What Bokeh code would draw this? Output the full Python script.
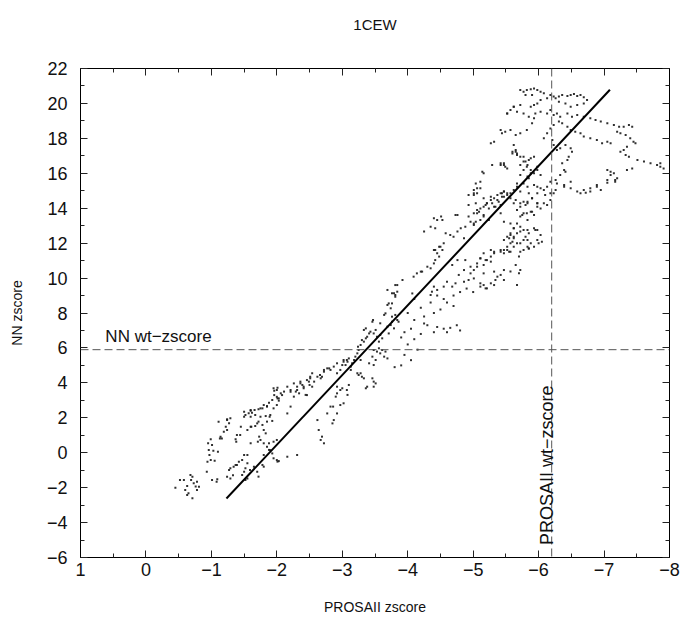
import math
from bokeh.plotting import figure
from bokeh.models import (Range1d, LinearAxis, FixedTicker, Span, Label,
                          CustomJSTickFormatter, ColumnDataSource, CustomLabelingPolicy)
from bokeh.embed import file_html
from bokeh.resources import INLINE

# ---------------- data ----------------
TITLE = "1CEW"
X_LABEL = "PROSAII zscore"
Y_LABEL = "NN zscore"
X_TICKS = [1, 0, -1, -2, -3, -4, -5, -6, -7, -8]
Y_TICKS = [-6, -4, -2, 0, 2, 4, 6, 8, 10, 12, 14, 16, 18, 20, 22]

NN_WT_ZSCORE = 5.9        # horizontal dashed reference
PROSA_WT_ZSCORE = -6.2    # vertical dashed reference

FIT_X = [-1.23, -7.09]
FIT_Y = [-2.62, 20.78]

# snapshot points: PROSAII zscore (x) and NN zscore (y)
PTS = [
    # lower-left cluster
    (-0.45, -2.0), (-0.52, -1.56), (-0.58, -1.56), (-0.60, -2.13), (-0.63, -2.42), (-0.68, -1.28),
    (-0.71, -1.37), (-0.69, -1.56), (-0.73, -1.75), (-0.76, -1.94), (-0.78, -1.66), (-0.81, -1.95),
    (-0.71, -2.61), (-0.65, -2.32), (-0.63, -1.9), (-0.78, -2.13),
    # column near -1
    (-1.01, -1.56), (-1.09, -1.52), (-1.08, -1.66), (-0.93, -1.09), (-0.94, -0.52), (-0.99, -0.42),
    (-1.05, -0.46), (-0.97, -0.13), (-0.96, 0.15), (-1.03, 0.11), (-1.10, 0.06), (-1.01, 0.44),
    (-0.95, 0.54), (-0.99, 0.77), (-1.13, 0.82), (-1.16, 0.82), (-1.19, 1.2), (-1.24, 1.30),
    (-1.22, 1.49), (-1.11, 1.78), (-1.27, 1.68), (-1.24, 1.91), (-1.29, 1.97), (-1.14, 0.92),
    (-1.24, 1.87),
    # upper band
    (-1.50, 2.06), (-1.52, 2.16), (-1.57, 2.26), (-1.60, 2.41), (-1.62, 2.29), (-1.66, 2.45),
    (-1.67, 2.16), (-1.72, 2.49), (-1.75, 2.06), (-1.78, 2.54), (-1.80, 2.73), (-1.83, 2.1),
    (-1.85, 2.67), (-1.88, 2.86), (-1.90, 2.16), (-1.93, 3.02), (-1.95, 2.54), (-1.96, 3.30),
    (-2.00, 3.2), (-2.00, 2.73), (-2.03, 2.98), (-1.95, 3.69), (-2.00, 3.59), (-1.96, 3.55),
    (-2.01, 3.72), (-2.08, 3.30), (-2.16, 3.78), (-2.21, 3.49), (-2.26, 3.97), (-2.31, 3.59),
    (-2.36, 4.07), (-2.41, 3.78), (-2.46, 4.16), (-2.51, 4.35), (-2.57, 4.07), (-2.62, 4.35),
    (-2.67, 4.26), (-2.72, 4.64), (-2.77, 4.83), (-2.82, 4.74), (-2.87, 4.93), (-2.92, 5.12),
    (-3.02, 5.21), (-3.07, 5.31), (-2.46, 3.30), (-2.21, 2.64), (-2.16, 2.25), (-2.01, 3.11),
    (-1.85, 2.64), (-1.75, 2.54), (-1.60, 2.45), (-1.50, 2.35), (-1.60, 2.06), (-1.70, 1.68),
    (-1.60, 1.49), (-1.45, 1.49), (-1.39, 1.01),
    # lower band
    (-1.37, 0.77), (-1.38, 0.63), (-1.44, 1.01), (-1.55, 1.30), (-1.61, 1.49), (-1.67, 1.53),
    (-1.72, 1.78), (-1.78, 1.59), (-1.80, 1.30), (-1.85, 1.78), (-1.89, 2.06), (-1.93, 1.82),
    (-1.71, 0.63), (-1.75, 0.73), (-1.80, 0.54), (-1.88, 0.54), (-1.95, 0.63), (-2.00, 0.73),
    (-1.85, 0.34), (-1.90, 0.15), (-1.93, -0.04), (-1.95, -0.32), (-2.00, -0.42), (-2.03, -0.48),
    (-1.80, -0.13), (-1.78, -0.70), (-1.70, -1.09), (-1.50, -0.13), (-1.47, -0.42), (-1.42, -0.52),
    (-1.39, -0.70), (-1.55, -0.61), (-1.52, -0.89), (-1.50, -1.09), (-1.47, -1.28), (-1.55, -1.47),
    (-1.52, -1.56), (-1.59, -0.99), (-1.29, -0.89), (-1.27, -0.99), (-1.24, -1.37), (-1.29, -1.47),
    (-1.33, -1.29), (-1.37, -0.70), (-1.72, -1.37), (-1.80, -0.80), (-2.16, -0.23), (-2.31, -0.13),
    (-2.01, -0.51), (-1.88, 0.16), (-1.83, 1.11), (-1.73, 0.92), (-1.60, 0.54), (-1.55, -0.13),
    (-1.65, -0.80), (-1.34, -0.80), (-2.62, 1.87), (-2.64, 1.30), (-2.69, 0.92), (-2.72, 0.54),
    (-2.67, 0.73), (-2.85, 1.68), (-2.87, 1.87), (-2.92, 2.25), (-2.82, 2.64), (-2.97, 2.73),
    (-3.02, 2.83), (-3.07, 3.59), (-3.00, 3.69), (-2.92, 3.78), (-2.86, 2.64), (-2.77, 2.25),
    # middle (-2 .. -4)
    (-2.06, 3.40), (-2.03, 3.11), (-2.11, 3.50), (-2.21, 3.59), (-2.26, 3.21), (-2.29, 3.50),
    (-2.31, 3.78), (-2.34, 3.40), (-2.36, 3.97), (-2.39, 3.88), (-2.41, 3.69), (-2.44, 3.31),
    (-2.49, 4.07), (-2.51, 4.26), (-2.50, 3.88), (-2.54, 4.55), (-2.54, 3.78), (-2.66, 4.45),
    (-2.69, 4.35), (-2.80, 4.83), (-2.72, 4.74), (-2.92, 4.55), (-2.97, 4.74), (-3.00, 5.02),
    (-3.05, 5.02), (-3.08, 5.21), (-3.02, 5.31), (-3.10, 5.40), (-3.13, 4.93), (-3.13, 4.74),
    (-3.15, 5.12), (-3.18, 5.31), (-3.20, 5.50), (-3.23, 5.69), (-3.24, 6.07), (-3.25, 5.88),
    (-3.28, 6.17), (-3.30, 6.45), (-3.33, 6.36), (-3.36, 6.55), (-3.38, 6.64), (-3.41, 6.83),
    (-3.33, 7.03), (-3.36, 7.12), (-3.43, 6.93), (-3.46, 7.50), (-3.47, 7.60), (-3.48, 6.83),
    (-3.51, 7.03), (-3.53, 6.64), (-3.56, 6.36), (-3.58, 6.74), (-3.61, 6.55), (-3.58, 7.41),
    (-3.64, 7.89), (-3.66, 7.98), (-3.69, 8.46), (-3.71, 8.55), (-3.74, 8.27), (-3.76, 8.55),
    (-3.79, 9.13), (-3.81, 8.93), (-3.84, 9.22), (-3.69, 9.32), (-3.81, 9.60), (-3.69, 7.22),
    (-3.71, 6.83), (-3.74, 7.31), (-3.76, 7.50), (-3.79, 7.12), (-3.84, 7.60), (-3.81, 7.89),
    (-3.76, 7.79), (-3.86, 7.50), (-3.48, 5.88), (-3.53, 5.79), (-3.56, 5.98), (-3.58, 5.69),
    (-3.61, 5.88), (-3.64, 5.50), (-3.66, 5.79), (-3.69, 5.40), (-3.46, 5.50), (-3.51, 5.31),
    (-3.48, 5.02), (-3.41, 5.12), (-3.28, 5.31), (-3.23, 4.55), (-3.25, 4.45), (-3.28, 4.55),
    (-3.30, 4.35), (-3.33, 4.26), (-3.46, 4.26), (-3.48, 4.07), (-3.51, 3.97), (-3.48, 3.78),
    (-3.38, 3.78), (-3.36, 3.69), (-3.10, 3.88), (-2.97, 3.59), (-2.92, 3.40), (-2.90, 3.21),
    (-3.08, 3.31),
    # spur right of the fit near NN 5..9
    (-4.30, 7.3), (-4.45, 7.2), (-4.55, 7.1), (-4.65, 7.15), (-4.75, 7.3), (-4.80, 7.0),
    (-4.60, 6.9), (-4.40, 6.9), (-4.20, 6.8), (-4.10, 6.5), (-4.00, 6.2), (-4.15, 5.9),
    (-3.95, 5.6), (-4.05, 5.3), (-3.90, 5.0), (-3.80, 4.9), (-4.10, 7.6), (-4.25, 7.8),
    (-4.40, 8.0), (-4.50, 8.2), (-4.60, 8.6), (-4.70, 8.4), (-4.20, 8.3), (-4.35, 8.6),
    (-4.00, 8.0), (-4.10, 8.8), (-4.45, 9.0), (-4.55, 8.8), (-4.70, 9.0), (-4.80, 9.2),
    (-4.90, 9.4), (-5.00, 9.2), (-4.25, 7.4), (-3.90, 6.6), (-3.95, 6.9), (-4.05, 7.1),
    # -3.7 .. -6
    (-3.76, 9.13), (-3.84, 9.60), (-3.92, 9.89), (-4.09, 10.08), (-4.14, 10.27), (-4.22, 10.37),
    (-4.35, 10.56), (-4.40, 10.84), (-4.42, 11.03), (-4.48, 11.23), (-4.45, 11.42), (-4.42, 11.61),
    (-4.50, 11.80), (-4.55, 11.99), (-4.53, 11.61), (-4.40, 11.61), (-4.48, 11.80), (-4.58, 12.56),
    (-4.65, 12.47), (-4.70, 12.37), (-4.76, 12.66), (-4.81, 12.85), (-4.86, 12.28), (-4.88, 12.94),
    (-4.96, 13.23), (-4.93, 13.52), (-5.01, 13.71), (-5.06, 13.90), (-5.09, 13.80), (-5.11, 13.99),
    (-5.16, 14.09), (-5.19, 14.18), (-5.21, 14.28), (-5.27, 14.47), (-5.32, 14.57), (-5.37, 14.76),
    (-5.42, 14.85), (-5.47, 14.95), (-5.44, 14.66), (-5.39, 14.37), (-5.29, 14.28), (-5.34, 14.09),
    (-5.24, 13.99), (-5.16, 13.52), (-5.11, 13.33), (-5.04, 13.23), (-5.01, 13.04), (-4.40, 13.42),
    (-4.45, 13.33), (-4.53, 13.33), (-4.25, 12.66), (-4.35, 12.94), (-4.42, 12.85), (-4.73, 13.61),
    (-4.93, 14.76), (-5.01, 15.04), (-5.06, 15.14), (-5.04, 15.42), (-5.11, 15.52), (-5.14, 16.09),
    (-5.16, 16.00), (-5.42, 16.47), (-5.47, 16.57), (-5.49, 16.38), (-5.60, 17.14), (-5.65, 17.24),
    (-5.67, 17.05), (-5.72, 16.95), (-5.77, 16.67), (-5.83, 16.47), (-5.85, 16.76), (-5.88, 16.86),
    (-5.93, 16.95), (-5.98, 16.38), (-5.77, 16.19), (-5.72, 15.90), (-5.83, 15.81), (-5.88, 16.00),
    (-5.67, 15.42), (-5.62, 15.04), (-5.72, 14.95), (-5.83, 15.23), (-5.93, 15.33), (-5.98, 14.85),
    (-5.90, 14.57), (-5.83, 14.37), (-5.98, 14.28), (-5.88, 13.80), (-5.77, 13.71), (-5.72, 13.52),
    (-5.83, 13.33), (-5.93, 13.61), (-5.67, 13.13), (-5.62, 12.85), (-5.57, 12.56), (-5.52, 12.37),
    (-5.62, 12.37), (-5.72, 12.66), (-5.83, 12.75), (-5.95, 12.75), (-5.98, 12.18), (-5.88, 11.99),
    (-5.77, 12.18), (-5.67, 11.99), (-5.60, 12.08), (-5.52, 11.80), (-5.47, 11.61), (-5.55, 11.51),
    (-5.42, 11.61), (-5.32, 11.51), (-5.27, 11.23), (-5.21, 11.03), (-5.11, 11.13), (-5.16, 10.75),
    (-5.06, 10.65), (-4.96, 10.65), (-4.86, 10.46), (-4.88, 11.03), (-4.76, 11.03), (-4.68, 10.75),
    (-4.78, 10.18), (-4.73, 9.70), (-4.60, 9.79), (-4.55, 9.51), (-4.68, 9.51), (-4.45, 9.32),
    (-4.37, 9.22), (-4.35, 9.03), (-4.40, 9.51), (-4.86, 9.79), (-4.93, 9.89), (-5.01, 9.98),
    (-5.11, 9.70), (-5.16, 9.60), (-5.21, 9.41), (-5.32, 9.60), (-5.37, 10.08), (-5.47, 10.46),
    (-5.57, 10.37), (-5.65, 10.75), (-5.70, 11.23), (-5.77, 11.61), (-5.85, 11.70), (-5.93, 11.80),
    (-3.81, 9.03), (-4.07, 9.12), (-4.20, 10.37), (-4.30, 10.65), (-4.51, 13.52), (-4.76, 13.61),
    (-4.93, 14.18), (-5.04, 14.28), (-5.01, 14.85), (-5.11, 15.14), (-5.29, 16.47), (-5.32, 17.81),
    (-5.27, 17.72), (-5.42, 18.48), (-5.52, 19.43), (-5.62, 19.81),
    # top region
    (-5.72, 20.77), (-5.77, 20.67), (-5.82, 20.77), (-5.88, 20.81), (-5.93, 20.86), (-5.98, 20.77),
    (-6.03, 20.67), (-5.80, 20.48), (-5.90, 20.48), (-6.08, 20.58), (-6.18, 20.48), (-6.23, 20.39),
    (-6.26, 20.29), (-6.31, 20.39), (-6.36, 20.48), (-6.44, 20.43), (-6.49, 20.48), (-6.54, 20.54),
    (-6.59, 20.43), (-6.64, 20.48), (-6.69, 20.35), (-6.31, 20.10), (-6.41, 20.00), (-6.49, 19.81),
    (-6.59, 19.91), (-6.69, 20.00), (-6.74, 20.20), (-6.13, 20.29), (-6.03, 20.20), (-5.98, 20.00),
    (-5.93, 19.91), (-5.88, 19.81), (-5.72, 19.91), (-5.62, 19.81), (-5.57, 19.62), (-5.52, 19.43),
    (-5.67, 19.53), (-5.77, 19.43), (-5.85, 19.24), (-5.95, 19.43), (-6.03, 19.53), (-6.13, 19.43),
    (-6.18, 19.62), (-6.23, 19.34), (-6.28, 19.43), (-6.33, 19.24), (-6.44, 19.43), (-6.51, 19.24),
    (-6.59, 19.34), (-6.69, 19.24), (-6.79, 19.15), (-6.87, 19.05), (-6.95, 18.96), (-7.05, 18.86),
    (-7.15, 18.77), (-7.23, 18.67), (-7.30, 18.67), (-7.38, 18.77), (-7.43, 18.67), (-7.20, 18.38),
    (-7.25, 18.29), (-7.33, 18.19), (-7.40, 18.00), (-7.45, 17.81), (-7.48, 17.72), (-7.35, 17.52),
    (-7.30, 17.33), (-7.33, 17.05), (-7.38, 16.95), (-7.25, 17.24), (-7.05, 17.81), (-7.10, 17.72),
    (-6.97, 17.72), (-6.89, 17.91), (-6.79, 18.00), (-6.69, 18.10), (-6.64, 18.29), (-6.56, 18.38),
    (-6.49, 18.48), (-6.44, 18.67), (-6.36, 18.86), (-6.31, 18.96), (-6.23, 18.77), (-6.18, 18.57),
    (-6.13, 18.29), (-6.08, 18.00), (-6.21, 17.91), (-6.23, 17.62), (-6.28, 17.33), (-6.33, 17.43),
    (-6.41, 17.62), (-6.49, 17.43), (-6.51, 17.24), (-6.46, 16.95), (-6.44, 16.76), (-6.36, 16.57),
    (-6.39, 16.19), (-6.41, 16.09), (-6.33, 15.90), (-6.26, 15.62), (-6.18, 15.52), (-6.13, 15.23),
    (-6.08, 15.04), (-6.03, 15.14), (-5.98, 15.23), (-6.10, 14.76), (-6.18, 14.85), (-6.26, 15.04),
    (-6.39, 15.23), (-6.49, 15.14), (-6.59, 14.95), (-6.69, 15.04), (-6.79, 15.14), (-6.89, 15.23),
    (-6.95, 15.04), (-7.05, 15.62), (-7.10, 15.90), (-7.15, 16.00), (-7.20, 15.71), (-7.17, 15.62),
    (-7.05, 16.19), (-7.10, 16.09), (-7.35, 16.19), (-7.43, 16.28), (-7.51, 16.76), (-7.61, 16.67),
    (-7.71, 16.57), (-7.81, 16.47), (-7.86, 16.38), (-7.91, 16.28), (-7.86, 16.57), (-5.93, 19.15),
    (-5.90, 18.86), (-5.82, 18.48), (-5.72, 18.29), (-5.65, 18.19), (-5.57, 18.48), (-5.49, 18.38),
    (-5.44, 18.29), (-5.62, 17.62), (-5.65, 17.33), (-5.60, 17.24), (-5.67, 17.14), (-5.77, 16.95),
    (-5.80, 16.67), (-5.72, 16.47), (-5.82, 16.38), (-5.88, 16.19), (-5.93, 16.00), (-5.98, 16.19),
    (-6.03, 15.90), (-5.85, 15.71), (-5.77, 15.42), (-5.67, 15.23), (-5.57, 14.85), (-5.52, 14.76),
    (-5.47, 14.66), (-5.65, 14.47), (-5.72, 14.28), (-5.80, 14.18), (-5.82, 13.71), (-5.90, 13.80),
    (-5.98, 14.09), (-6.08, 14.28), (-5.75, 13.61), (-5.44, 14.85), (-5.42, 16.57), (-5.47, 16.47),
    (-5.52, 16.28),
    # below the fit, -5 .. -7
    (-5.01, 14.76), (-5.06, 14.85), (-5.16, 14.57), (-5.21, 14.28), (-5.27, 14.66), (-5.32, 14.09),
    (-5.37, 14.47), (-5.42, 14.18), (-5.47, 14.95), (-5.52, 14.85), (-5.57, 14.57), (-5.62, 14.28),
    (-5.67, 13.90), (-5.72, 14.09), (-5.77, 14.37), (-5.83, 14.28), (-5.85, 14.85), (-5.90, 14.57),
    (-5.98, 14.28), (-6.03, 13.99), (-6.13, 14.18), (-6.18, 14.47), (-6.23, 14.85), (-6.28, 15.42),
    (-6.39, 15.33), (-6.49, 15.52), (-6.64, 14.85), (-6.72, 14.89), (-6.79, 14.95), (-6.89, 15.33),
    (-7.05, 15.46), (-7.17, 15.52), (-5.06, 13.71), (-5.01, 13.13), (-5.16, 13.61), (-5.24, 13.33),
    (-5.42, 13.71), (-5.47, 13.23), (-5.57, 13.13), (-5.62, 12.85), (-5.67, 12.56), (-5.72, 12.94),
    (-5.77, 12.75), (-5.80, 12.37), (-5.85, 12.56), (-5.93, 12.85), (-5.98, 12.75), (-6.03, 12.47),
    (-6.05, 12.08), (-6.00, 11.99), (-5.83, 12.18), (-5.72, 11.99), (-5.62, 12.28), (-5.57, 11.99),
    (-5.52, 11.61), (-5.62, 11.80), (-5.72, 11.51), (-5.83, 11.80), (-5.57, 12.47), (-5.47, 12.18),
    (-5.55, 12.28), (-5.27, 11.61), (-5.32, 11.42), (-5.42, 11.51), (-5.47, 11.42), (-5.57, 11.51),
    (-5.16, 11.42), (-5.11, 11.13), (-5.27, 10.94), (-5.06, 10.84), (-5.01, 10.46), (-4.96, 10.27),
    (-5.16, 10.27), (-5.19, 11.03), (-5.32, 10.37), (-5.42, 10.18), (-5.47, 9.89), (-5.34, 9.89),
    (-5.27, 9.70), (-5.19, 9.41), (-5.11, 9.51), (-5.72, 10.46), (-5.70, 10.27), (-5.85, 11.70),
    (-5.67, 9.60),
]
PROSA_Z = [p[0] for p in PTS]
NN_Z = [p[1] for p in PTS]

FONT = "Liberation Sans"
MINUS_FMT = "return tick < 0 ? '\u2212' + (-tick) : String(tick);"
HIDE_ALL = "for (const i of indices) { indices.unset(i) }\nreturn indices"

# ---------------- figure ----------------
p = figure(width=683, height=617, output_backend="svg", toolbar_location=None, title=None,
           x_range=Range1d(X_TICKS[0], X_TICKS[-1]), y_range=Range1d(Y_TICKS[0], Y_TICKS[-1]),
           min_border_left=80, min_border_right=14, min_border_top=68, min_border_bottom=60,
           x_axis_label=X_LABEL, y_axis_label=Y_LABEL)

p.grid.visible = False
p.outline_line_color = "black"
p.outline_line_width = 1
p.background_fill_color = "white"
p.border_fill_color = "white"

x_minor = [(a + b) / 2 for a, b in zip(X_TICKS[:-1], X_TICKS[1:])]
y_minor = [(a + b) / 2 for a, b in zip(Y_TICKS[:-1], Y_TICKS[1:])]


def style_axis(ax, minor, major, label_size):
    ax.ticker = FixedTicker(ticks=major, minor_ticks=minor)
    ax.formatter = CustomJSTickFormatter(code=MINUS_FMT)
    ax.major_tick_in = 7
    ax.major_tick_out = 0
    ax.minor_tick_in = 4
    ax.minor_tick_out = 0
    ax.axis_line_color = "black"
    ax.major_tick_line_color = "#222222"
    ax.minor_tick_line_color = "#222222"
    ax.major_label_text_font = FONT
    ax.major_label_text_font_size = label_size
    ax.major_label_text_color = "#111111"
    ax.axis_label_text_font = FONT
    ax.axis_label_text_font_size = "14px"
    ax.axis_label_text_font_style = "normal"
    ax.axis_label_text_color = "#111111"


style_axis(p.xaxis[0], x_minor, X_TICKS, "18px")
style_axis(p.yaxis[0], y_minor, Y_TICKS, "18px")
p.xaxis[0].major_label_standoff = 5
p.xaxis[0].axis_label_standoff = 20
p.yaxis[0].major_label_standoff = 13
p.yaxis[0].axis_label_standoff = 19

# tick-only mirror axis on top; its axis label carries the chart title
top = LinearAxis(axis_label=TITLE)
style_axis(top, x_minor, X_TICKS, "0px")
top.major_label_policy = CustomLabelingPolicy(code=HIDE_ALL)
top.major_label_standoff = 0
top.axis_label_standoff = 36
top.axis_label_text_font_size = "15px"
p.add_layout(top, "above")
right = LinearAxis()
style_axis(right, y_minor, Y_TICKS, "0px")
right.major_label_policy = CustomLabelingPolicy(code=HIDE_ALL)
right.major_label_standoff = 0
p.add_layout(right, "right")

# reference lines
p.add_layout(Span(location=NN_WT_ZSCORE, dimension="width", line_color="#555555",
                  line_width=1, line_dash="8 4"))
p.add_layout(Span(location=PROSA_WT_ZSCORE, dimension="height", line_color="#555555",
                  line_width=1, line_dash="8 4"))

# points
src = ColumnDataSource(data=dict(x=PROSA_Z, y=NN_Z))
p.scatter("x", "y", source=src, marker="square", size=2, fill_color="#1a1a1a",
          line_color=None, fill_alpha=0.9)

# fit line
p.line(FIT_X, FIT_Y, line_color="black", line_width=2)

# annotations
p.add_layout(Label(x=0.62, y=6.63, text="NN wt\u2212zscore", text_font=FONT,
                   text_font_size="17px", text_color="#111111",
                   text_baseline="alphabetic", text_align="left"))
p.add_layout(Label(x=-6.135, y=-5.28, text="PROSAII wt\u2212zscore", text_font=FONT,
                   text_font_size="18px", text_color="#111111", angle=math.pi / 2,
                   text_baseline="alphabetic", text_align="left"))

with open("out.html", "w", encoding="utf-8") as f:
    f.write(file_html(p, INLINE))
